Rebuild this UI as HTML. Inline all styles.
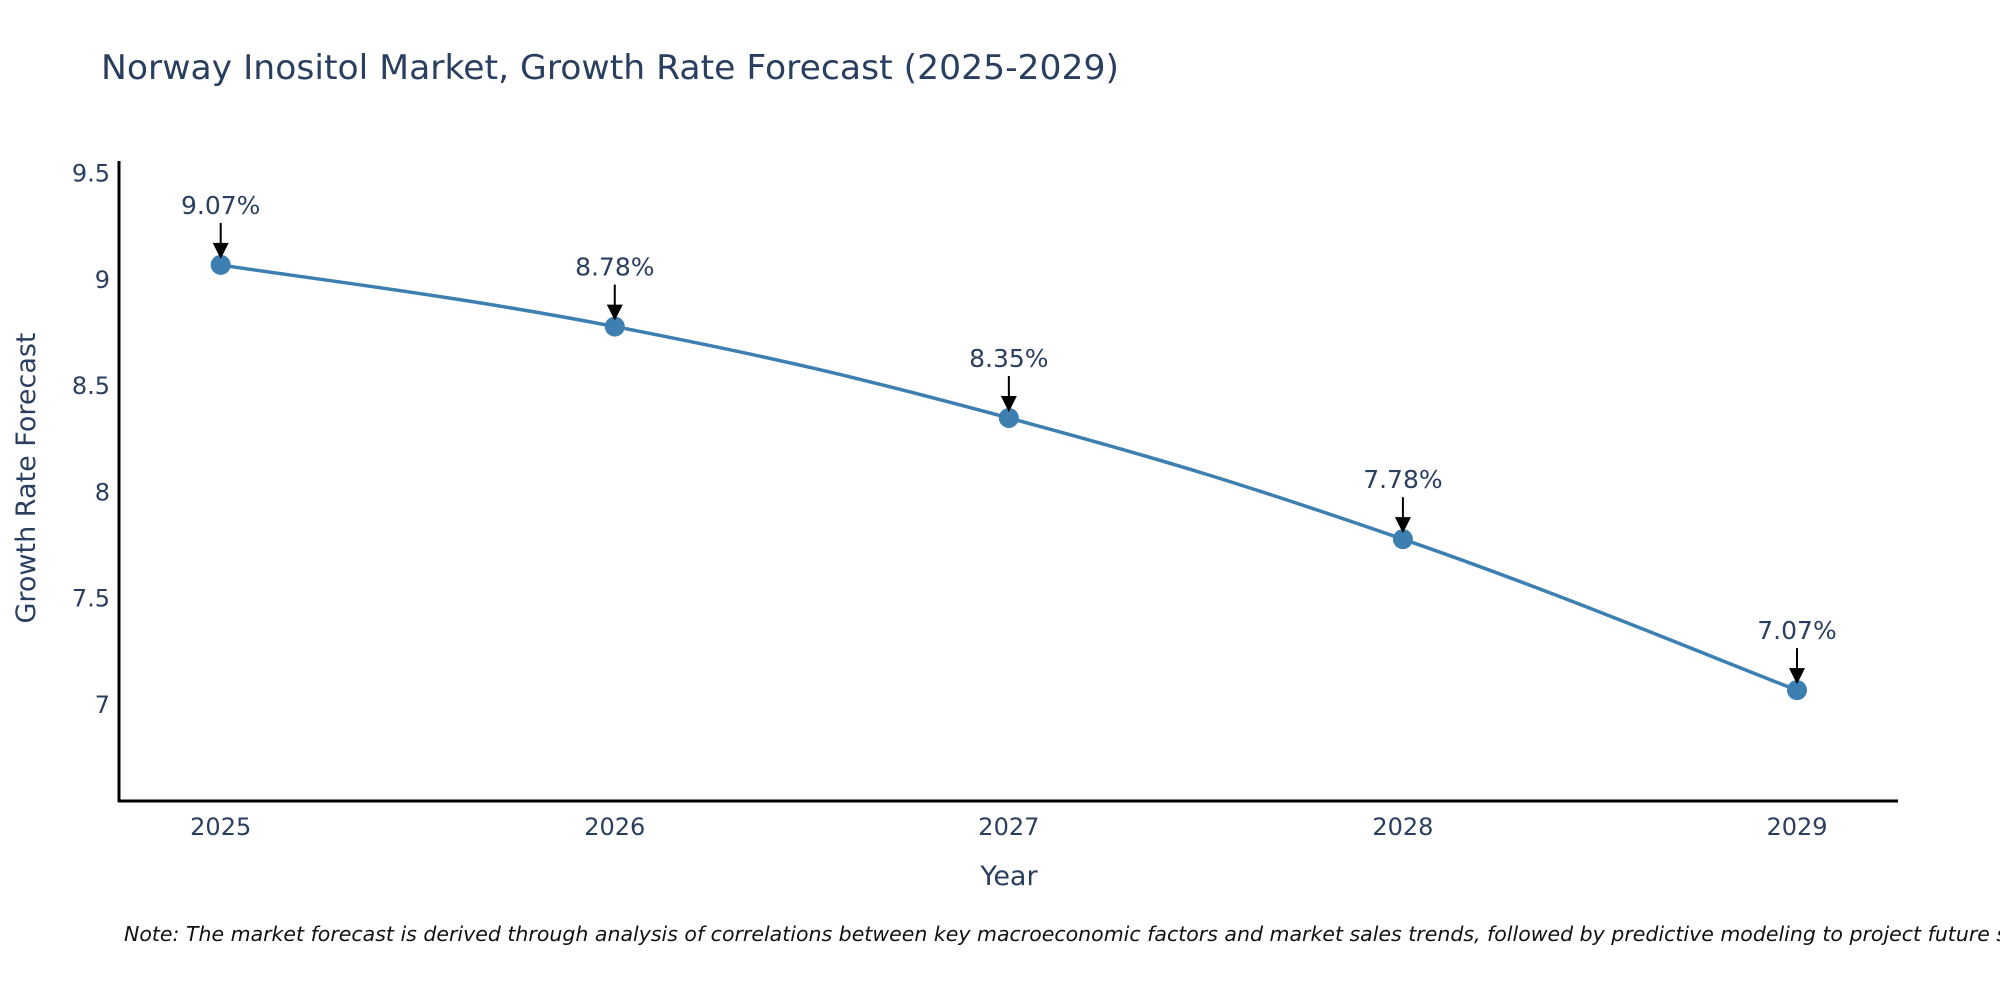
<!DOCTYPE html>
<html><head><meta charset="utf-8"><style>
html,body{margin:0;padding:0;background:#fff;overflow:hidden;}
svg{display:block;font-family:"DejaVu Sans","Liberation Sans",sans-serif;}
</style></head><body>
<svg id="chart" width="2000" height="1000" viewBox="0 0 2000 1000">
<text x="101" y="79" font-size="34" fill="#2a3f5f" textLength="1018" lengthAdjust="spacingAndGlyphs">Norway Inositol Market, Growth Rate Forecast (2025-2029)</text>
<g id="plot"></g>
<line x1="119" y1="161" x2="119" y2="802" stroke="#000" stroke-width="3"/>
<line x1="118" y1="801" x2="1898" y2="801" stroke="#000" stroke-width="3"/>
<text x="1009" y="885" font-size="27" fill="#2a3f5f" text-anchor="middle">Year</text>
<text transform="translate(35,478) rotate(-90)" font-size="27" fill="#2a3f5f" text-anchor="middle">Growth Rate Forecast</text>
<text x="124" y="941" font-size="20.5" font-style="italic" fill="#111">Note: The market forecast is derived through analysis of correlations between key macroeconomic factors and market sales trends, followed by predictive modeling to project future sales.</text>
</svg>
<script>
const years=["2025","2026","2027","2028","2029"];
const values=[9.07,8.78,8.35,7.78,7.07];
const labels=["9.07%","8.78%","8.35%","7.78%","7.07%"];
const yTicks=[7,7.5,8,8.5,9,9.5];
const yTickLabels=["7","7.5","8","8.5","9","9.5"];
const NS="http://www.w3.org/2000/svg";
const g=document.getElementById('plot');
function xs(i){return 220.7+i*(1797-220.7)/(years.length-1);}
function ys(v){return 705-(v-7)*212.6;}
function mk(t,a){const e=document.createElementNS(NS,t);for(const k in a)e.setAttribute(k,a[k]);g.appendChild(e);return e;}
yTicks.forEach((t,i)=>{const e=mk('text',{x:110,y:ys(t)+8,'font-size':24,fill:'#2a3f5f','text-anchor':'end'});e.textContent=yTickLabels[i];

});
years.forEach((y,i)=>{const e=mk('text',{x:xs(i),y:835,'font-size':24,fill:'#2a3f5f','text-anchor':'middle'});e.textContent=y;

});
const P=values.map((v,i)=>[xs(i),ys(v)]);
let d='M'+P[0][0]+','+P[0][1];const s=0.2;
for(let i=0;i<P.length-1;i++){const p0=P[Math.max(i-1,0)],p1=P[i],p2=P[i+1],p3=P[Math.min(i+2,P.length-1)];
const c1=[p1[0]+(p2[0]-p0[0])*s,p1[1]+(p2[1]-p0[1])*s],c2=[p2[0]-(p3[0]-p1[0])*s,p2[1]-(p3[1]-p1[1])*s];
d+=' C'+c1+' '+c2+' '+p2;}
const line=mk('path',{d:d,fill:'none',stroke:'#3d7fb0','stroke-width':3.5});


values.forEach((v,i)=>{const cx=xs(i),cy=ys(v);
const c=mk('circle',{cx:cx,cy:cy,r:10,fill:'#3d7fb0'});


const a=mk('line',{x1:cx,y1:cy-42,x2:cx,y2:cy-20,stroke:'#000','stroke-width':2});


const h=mk('polygon',{points:(cx-8)+','+(cy-22)+' '+(cx+8)+','+(cy-22)+' '+cx+','+(cy-6),fill:'#000'});


const t=mk('text',{x:cx,y:cy-51,'font-size':25,fill:'#2a3f5f','text-anchor':'middle'});t.textContent=labels[i];

});
</script>
</body></html>
